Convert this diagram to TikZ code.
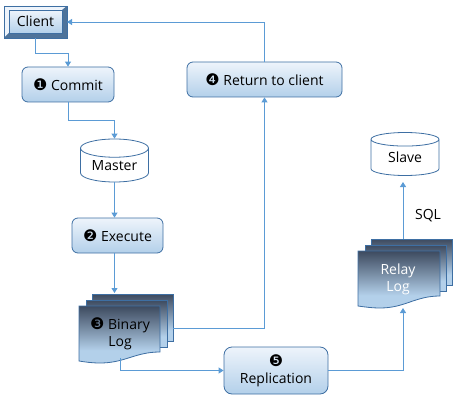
\documentclass[tikz,border=0pt]{standalone}
\usepackage{fontspec}
\setmainfont{Open Sans}
\newfontfamily\dingfont{DejaVu Sans}
\usetikzlibrary{arrows.meta,shapes.geometric}
\definecolor{edgeblue}{HTML}{3E6FA3}
\definecolor{flowblue}{HTML}{5B9BD5}
\definecolor{paleblue}{HTML}{EEF4FB}
\definecolor{midblue}{HTML}{B3D0EA}
\definecolor{darkslate}{HTML}{3D4A5F}
\pgfdeclareverticalshading{sheetfade}{100bp}{
  color(0bp)=(midblue); color(36bp)=(midblue); color(55bp)=(midblue!50!darkslate);
  color(75bp)=(darkslate); color(100bp)=(darkslate)}
\tikzset{
  stepbox/.style={draw=edgeblue,line width=0.8pt,rounded corners=6pt,top color=paleblue,bottom color=midblue,
    inner sep=0pt,align=center,minimum height=35,font=\fontsize{14}{17}\selectfont},
  dbtext/.style={inner sep=0pt,font=\fontsize{14}{17}\selectfont},
  db/.style={draw=edgeblue,line width=0.8pt,fill=white,shape=cylinder,shape border rotate=90,aspect=0.4,
    anchor=shape center,minimum width=68,minimum height=43,inner sep=0pt,font=\fontsize{14}{17}\selectfont},
  sheet/.style={draw=edgeblue,line width=0.8pt,shading=sheetfade},
  logtext/.style={inner sep=0pt,align=center,font=\fontsize{14}{17}\selectfont},
  flow/.style={draw=flowblue,line width=0.9pt,-{Triangle[length=5pt,width=6pt]}},
}
\newcommand{\num}[1]{{\dingfont\fontsize{16}{17}\selectfont\symbol{#1}}}
\begin{document}
\begin{tikzpicture}[x=1pt,y=-1pt]
  \useasboundingbox (0,0) rectangle (462,403);
  % client, raised frame
  \fill[midblue] (4,6) rectangle (67,38);
  \fill[paleblue] (4,6) -- (67,6) -- (62,10) -- (9,10) -- (9,33) -- (4,38) -- cycle;
  \fill[edgeblue!75!gray] (67,6) -- (67,38) -- (4,38) -- (9,33) -- (62,33) -- (62,10) -- cycle;
  \draw[edgeblue,line width=0.9pt] (4,6) rectangle (67,38);
  \node[draw=edgeblue,line width=0.8pt,top color=paleblue,bottom color=midblue,minimum width=53,minimum height=23,
    inner sep=0pt,font=\fontsize{14}{17}\selectfont] (client) at (35.5,21.5) {Client};
  \coordinate (clientS) at (35.5,38);
  \coordinate (clientE) at (67,22);
  % steps
  \node[stepbox,minimum width=92] (commit) at (68,84.5) {\num{"2776} Commit};
  \node[stepbox,minimum width=91] (execute) at (117.5,235.5) {\num{"2777} Execute};
  \node[stepbox,minimum width=155] (return) at (264.5,79.5) {\num{"2779} Return to client};
  \node[stepbox,minimum width=104,minimum height=47,rounded corners=8pt] (replication) at (276,370.5)
    {\num{"277A}\\Replication};
  \node[db] (master) at (114.5,160.5) {\raisebox{-4pt}{Master}};
  \node[db] (slave) at (405,154) {\raisebox{-4pt}{Slave}};
  % binary log
  \begin{scope}[shift={(92,294)}]
    \draw[sheet] (0,0) rectangle (81,47);
  \end{scope}
  \begin{scope}[shift={(86,300)}]
    \draw[sheet] (0,0) rectangle (81,47);
  \end{scope}
  \draw[sheet] (79,306) -- (160,306) -- (160,352) .. controls (135,352) and (125,363) .. (100,363)
    .. controls (92,363) and (85,362) .. (79,361) -- cycle;
  \node[logtext] (binlog) at (120,334) {\num{"2778} Binary\\Log};
  \coordinate (binlogN) at (114.5,293);
  \coordinate (binlogE) at (173,328);
  \coordinate (binlogS) at (120,358);
  % relay log
  \begin{scope}[shift={(371,239)}]
    \draw[sheet] (0,0) rectangle (81,46);
  \end{scope}
  \begin{scope}[shift={(365,245)}]
    \draw[sheet] (0,0) rectangle (81,46);
  \end{scope}
  \draw[sheet] (358,251) -- (440,251) -- (440,296) .. controls (415,296) and (405,308) .. (380,308)
    .. controls (372,308) and (365,307) .. (358,306) -- cycle;
  \node[logtext,text=white] (relaylog) at (398,279) {Relay\\Log};
  \coordinate (relayN) at (403,239);
  \coordinate (relayS) at (403,308);
  \coordinate (slaveS) at (403,182);
  \node[dbtext] (sql) at (428,216) {SQL};
  % flows
  \draw[flow] (clientS) -- ++(0,15) -| (commit.north);
  \draw[flow] (commit.south) -- ++(0,18) -| (master.north);
  \draw[flow] (master.south) -- (master.south |- execute.north);
  \draw[flow] (execute.south -| binlogN) -- (binlogN);
  \draw[flow] (binlogE) -| (return.south);
  \draw[flow] (return.north) |- (clientE);
  \draw[flow] (binlogS) |- (replication.west);
  \draw[flow] (replication.east) -| (relayS);
  \draw[flow] (relayN) -- (slaveS);
\end{tikzpicture}
\end{document}
